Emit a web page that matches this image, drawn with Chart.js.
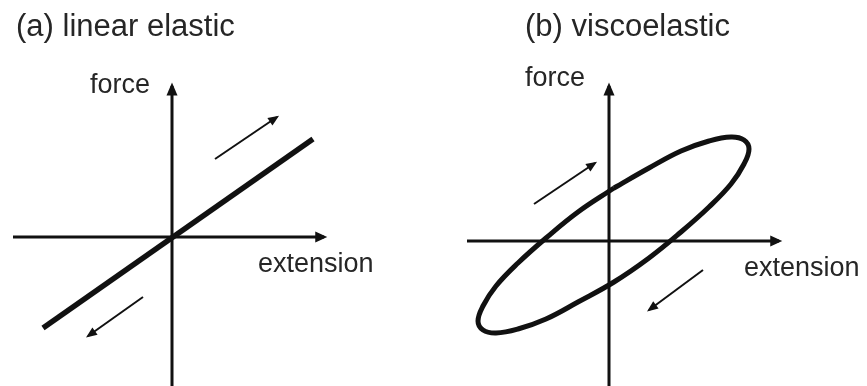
<!DOCTYPE html>
<html>
<head>
<meta charset="utf-8">
<title>Linear elastic vs viscoelastic</title>
<script src="https://cdn.jsdelivr.net/npm/chart.js@4.4.1/dist/chart.umd.min.js"></script>
<style>
  body { margin: 0; background: #fff; }
  .panel { position: absolute; top: 0; height: 386px; }
  #pa { left: 0; width: 434px; }
  #pb { left: 434px; width: 433px; }
  .lbl { position: absolute; font-family: "Liberation Sans", Arial, sans-serif; color: #262626; white-space: nowrap; line-height: 1; }
  .ttl { font-size: 31px; }
  .ax { font-size: 27px; }
</style>
</head>
<body>
  <div class="panel" id="pa"><canvas id="ca" width="434" height="386"></canvas></div>
  <div class="panel" id="pb"><canvas id="cb" width="433" height="386"></canvas></div>

  <div class="lbl ttl" style="left:16px; top:10px;">(a) linear elastic</div>
  <div class="lbl ax" style="left:90px; top:71px;">force</div>
  <div class="lbl ax" style="left:258px; top:250px;">extension</div>

  <div class="lbl ttl" style="left:525px; top:10px;">(b) viscoelastic</div>
  <div class="lbl ax" style="left:525px; top:64px;">force</div>
  <div class="lbl ax" style="left:744px; top:254px;">extension</div>

<script>
// (a) linear elastic: force follows extension along one straight line
const elasticExtAxis = [{x: -1.59, y: 0}, {x: 1.52, y: 0}];
const elasticForceAxis = [{x: 0, y: -1.60}, {x: 0, y: 1.51}];
const elasticLine = [{x: -1.29, y: -0.91}, {x: 1.41, y: 0.98}];
const elasticLoading = [{x: 0.43, y: 0.78}, {x: 1.05, y: 1.20}];
const elasticUnloading = [{x: -0.29, y: -0.60}, {x: -0.84, y: -0.99}];

// (b) viscoelastic: loading and unloading trace a hysteresis loop
const viscoExtAxis = [{x: -1.42, y: 0}, {x: 1.70, y: 0}];
const viscoForceAxis = [{x: 0, y: -1.60}, {x: 0, y: 1.55}];
const viscoLoop = [
  {x: 0.05, y: 0.53}, {x: 0.40, y: 0.73}, {x: 0.72, y: 0.90}, {x: 1.00, y: 1.00},
  {x: 1.22, y: 1.04}, {x: 1.35, y: 1.01}, {x: 1.40, y: 0.92}, {x: 1.35, y: 0.77},
  {x: 1.22, y: 0.57}, {x: 1.00, y: 0.34}, {x: 0.72, y: 0.09}, {x: 0.40, y: -0.17},
  {x: 0.05, y: -0.41}, {x: -0.31, y: -0.61}, {x: -0.63, y: -0.78}, {x: -0.91, y: -0.88},
  {x: -1.13, y: -0.92}, {x: -1.26, y: -0.89}, {x: -1.31, y: -0.80}, {x: -1.26, y: -0.65},
  {x: -1.13, y: -0.45}, {x: -0.91, y: -0.22}, {x: -0.63, y: 0.03}, {x: -0.31, y: 0.29},
  {x: 0.05, y: 0.53}
];
const viscoLoading = [{x: -0.75, y: 0.37}, {x: -0.14, y: 0.78}];
const viscoUnloading = [{x: 0.94, y: -0.29}, {x: 0.40, y: -0.69}];

const INK = '#111';

// filled triangle at the last point of any dataset that has a `head` [length, half width]
const arrowHeads = {
  id: 'arrowHeads',
  afterDatasetsDraw(chart) {
    const ctx = chart.ctx;
    chart.data.datasets.forEach((ds, i) => {
      if (!ds.head) return;
      const pts = chart.getDatasetMeta(i).data;
      const a = pts[pts.length - 2], b = pts[pts.length - 1];
      const ang = Math.atan2(b.y - a.y, b.x - a.x);
      const [len, half] = ds.head;
      const over = ds.borderWidth / 2 * len / half;
      ctx.save();
      ctx.translate(b.x, b.y);
      ctx.rotate(ang);
      ctx.fillStyle = ds.borderColor;
      ctx.beginPath();
      ctx.moveTo(over, 0);
      ctx.lineTo(over - len, -half);
      ctx.lineTo(over - len, half);
      ctx.closePath();
      ctx.fill();
      ctx.restore();
    });
  }
};

function line(data, width, extra) {
  return Object.assign({
    data: data,
    showLine: true,
    borderColor: INK,
    borderWidth: width,
    borderCapStyle: 'butt',
    pointRadius: 0,
    fill: false,
    tension: 0
  }, extra || {});
}

function drawPanel(id, datasets, xMin, xMax, yMin, yMax) {
  return new Chart(document.getElementById(id), {
    type: 'scatter',
    data: { datasets: datasets },
    options: {
      responsive: false,
      animation: false,
      layout: { padding: 0 },
      events: [],
      scales: {
        x: { type: 'linear', display: false, min: xMin, max: xMax },
        y: { type: 'linear', display: false, min: yMin, max: yMax }
      },
      plugins: { legend: { display: false }, tooltip: { enabled: false } }
    },
    plugins: [arrowHeads]
  });
}

drawPanel('ca', [
  line(elasticExtAxis, 3, { head: [12, 5.5] }),
  line(elasticForceAxis, 3, { head: [13, 5.5] }),
  line(elasticLine, 5.5),
  line(elasticLoading, 2, { head: [11, 4.5] }),
  line(elasticUnloading, 2, { head: [11, 4.5] })
], -1.72, 2.62, -1.49, 2.37);

drawPanel('cb', [
  line(viscoExtAxis, 3, { head: [12, 5.5] }),
  line(viscoForceAxis, 3, { head: [13, 5.5] }),
  line(viscoLoop, 5, { tension: 0.4, borderJoinStyle: 'round' }),
  line(viscoLoading, 2, { head: [11, 4.5] }),
  line(viscoUnloading, 2, { head: [11, 4.5] })
], -1.75, 2.58, -1.45, 2.41);
</script>
</body>
</html>
